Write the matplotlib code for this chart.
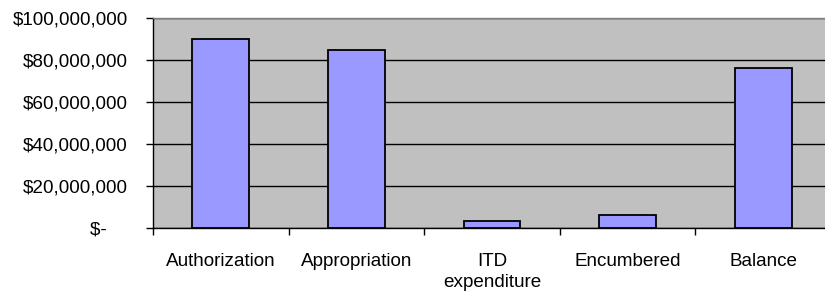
import matplotlib.pyplot as plt
from matplotlib.ticker import FuncFormatter

categories = ['Authorization', 'Appropriation', 'ITD\nexpenditure', 'Encumbered', 'Balance']
amounts = [90_000_000, 84_600_000, 3_300_000, 6_300_000, 76_300_000]
y_ticks = [0, 20_000_000, 40_000_000, 60_000_000, 80_000_000, 100_000_000]

plt.rcParams['font.family'] = 'Liberation Sans'

fig = plt.figure(figsize=(8.25, 2.97), dpi=100)
ax = fig.add_axes([153 / 825, 69 / 297, 678 / 825, 210 / 297])
ax.set_facecolor('#C0C0C0')

x = list(range(len(categories)))
ax.bar(x, amounts, width=0.42, color='#9999FF', edgecolor='black', linewidth=1.3, zorder=3)

ax.set_xlim(-0.5, len(categories) - 0.5)
ax.set_ylim(0, 100_000_000)
ax.set_yticks(y_ticks)


def money(v, pos):
    if v == 0:
        return '$-    '
    return '${:,.0f}'.format(v)


ax.yaxis.set_major_formatter(FuncFormatter(money))
ax.yaxis.grid(True, color='black', linewidth=1.0, zorder=1)

# labels at category centres, tick marks at the boundaries
ax.set_xticks(x)
ax.set_xticklabels(categories, linespacing=1.3)
ax.set_xticks([i - 0.5 for i in range(len(categories) + 1)], minor=True)
ax.tick_params(axis='x', which='major', length=0, pad=18, labelsize=13.6)
ax.tick_params(axis='x', which='minor', length=5, width=1, direction='out')
ax.tick_params(axis='y', length=5, width=1, pad=13, labelsize=13.6)

ax.spines['left'].set_color('black')
ax.spines['bottom'].set_color('black')
ax.spines['top'].set_color('#808080')
ax.spines['right'].set_visible(False)
for s in ax.spines.values():
    s.set_linewidth(1.0)

fig.savefig('out.png', dpi=100)
